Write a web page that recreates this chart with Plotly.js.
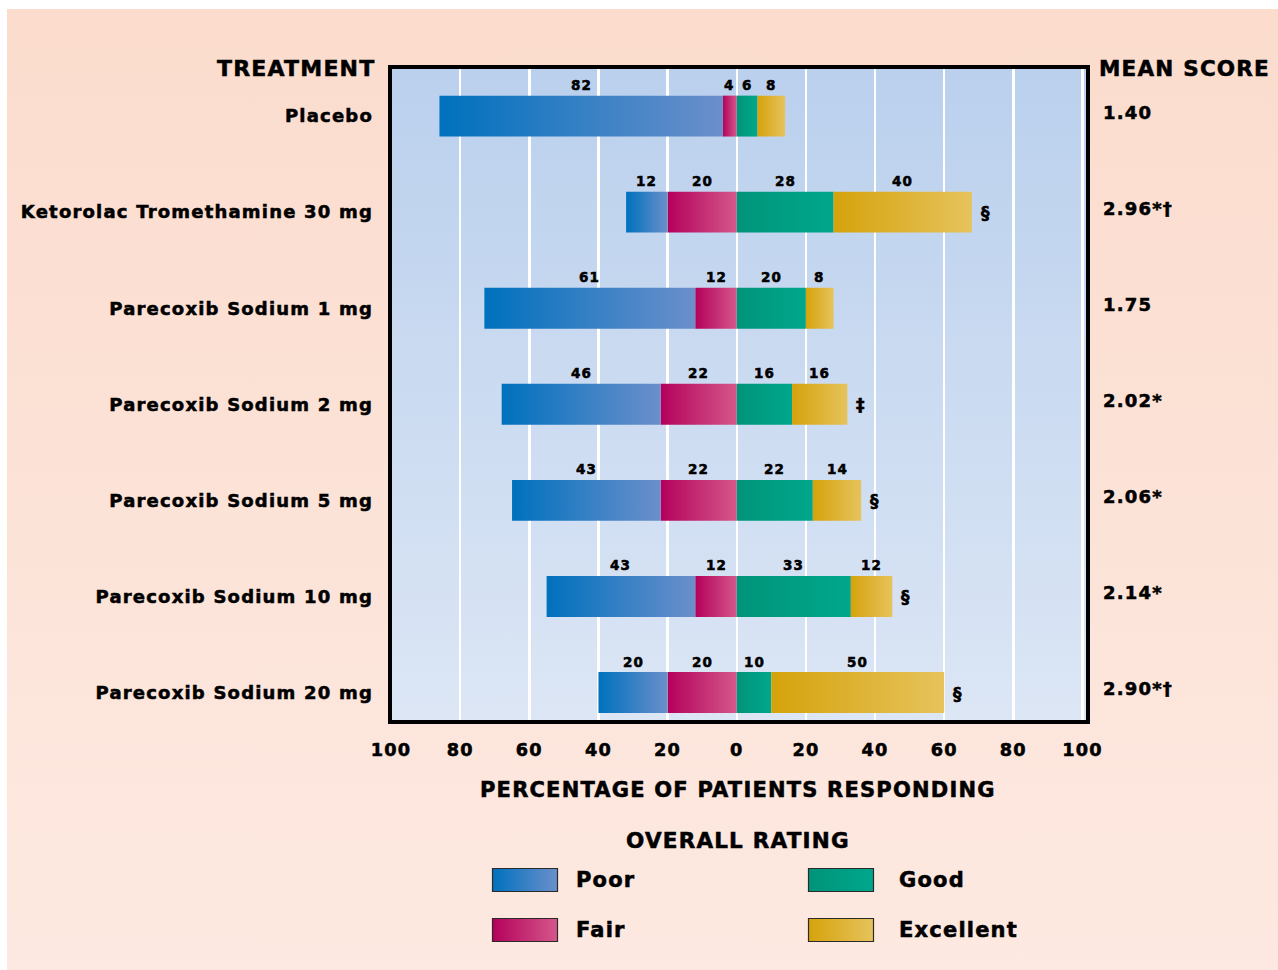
<!DOCTYPE html>
<html>
<head>
<meta charset="utf-8">
<script src="https://cdn.plot.ly/plotly-3.0.1.min.js"></script>
<style>
  html, body { margin: 0; padding: 0; background: #ffffff; }
  #frame {
    position: absolute; left: 7px; top: 9px; width: 1271px; height: 961px;
    background: linear-gradient(to bottom, #fbdccd 0%, #fce3d8 55%, #fde9e1 100%);
  }
  #chart { position: absolute; left: 0; top: 0; width: 1278px; height: 970px; }
  /* heavy, slightly tracked-out lettering throughout */
  svg text { letter-spacing: 1.2px; stroke: #000000; stroke-width: 0.55px; }
</style>
</head>
<body>
<div id="frame"></div>
<div id="chart"></div>
<script>
// Overall rating by treatment (percentage of patients)
const treatments = [
  'Placebo',
  'Ketorolac Tromethamine 30 mg',
  'Parecoxib Sodium 1 mg',
  'Parecoxib Sodium 2 mg',
  'Parecoxib Sodium 5 mg',
  'Parecoxib Sodium 10 mg',
  'Parecoxib Sodium 20 mg'
];
const poor      = [82, 12, 61, 46, 43, 43, 20];
const fair      = [4, 20, 12, 22, 22, 12, 20];
const good      = [6, 28, 20, 16, 22, 33, 10];
const excellent = [8, 40, 8, 16, 14, 12, 50];
const meanScores = ['1.40', '2.96*\u2020', '1.75', '2.02*', '2.06*', '2.14*', '2.90*\u2020'];
const significance = ['', '\u00a7', '', '\u2021', '\u00a7', '\u00a7', '\u00a7'];
const tickValues = [-100, -80, -60, -40, -20, 0, 20, 40, 60, 80, 100];
const tickLabels = ['100', '80', '60', '40', '20', '0', '20', '40', '60', '80', '100'];

const FONT = 'DejaVu Sans, sans-serif';

// Base colours (also used to find the drawn paths and swap in gradients)
const COLORS = {
  poor: 'rgb(60, 130, 200)',
  fair: 'rgb(200, 50, 120)',
  good: 'rgb(0, 158, 130)',
  excellent: 'rgb(222, 180, 60)'
};
const GRADIENTS = {
  poor: ['#0071bd', '#0a74bf', '#6b8fcb'],
  fair: ['#b3005b', '#b70a60', '#d5578a'],
  good: ['#00957a', '#00967b', '#00a78c'],
  excellent: ['#d4a30a', '#d7a614', '#e6c35c']
};
const PLOT_BG = 'rgb(201, 217, 240)';

const neg = a => a.map(v => -v);
const barCommon = { type: 'bar', orientation: 'h', y: treatments, width: 0.426,
  hoverinfo: 'skip', showlegend: false };

const traces = [
  Object.assign({}, barCommon, { name: 'Fair', x: neg(fair), marker: { color: COLORS.fair, line: { width: 0 } } }),
  Object.assign({}, barCommon, { name: 'Poor', x: neg(poor), marker: { color: COLORS.poor, line: { width: 0 } } }),
  Object.assign({}, barCommon, { name: 'Good', x: good, marker: { color: COLORS.good, line: { width: 0 } } }),
  Object.assign({}, barCommon, { name: 'Excellent', x: excellent, marker: { color: COLORS.excellent, line: { width: 0 } } })
];

const annotations = [];
const txt = (size) => ({ family: FONT, size: size, color: '#000000', weight: 'bold' });

// Segment value labels above each bar, significance marks and mean scores
treatments.forEach((t, i) => {
  const segs = [
    [-(fair[i] + poor[i] / 2), poor[i]],
    [-fair[i] / 2, fair[i]],
    [good[i] / 2, good[i]],
    [good[i] + excellent[i] / 2, excellent[i]]
  ];
  segs.forEach(([cx, v]) => annotations.push({
    x: cx, y: t, xref: 'x', yref: 'y', text: String(v), showarrow: false,
    yshift: 31, xanchor: 'center', yanchor: 'middle', font: txt(13.5)
  }));
  if (significance[i]) {
    annotations.push({
      x: good[i] + excellent[i], y: t, xref: 'x', yref: 'y', text: significance[i],
      showarrow: false, xanchor: 'left', yanchor: 'middle', xshift: 7, yshift: -1, font: txt(17)
    });
  }
  annotations.push({
    x: 1, y: t, xref: 'paper', yref: 'y', text: meanScores[i], showarrow: false,
    xanchor: 'left', yanchor: 'middle', xshift: 13, yshift: 4, font: txt(18)
  });
});

// Column headers and axis captions
annotations.push(
  { x: 0, y: 1, xref: 'paper', yref: 'paper', text: 'TREATMENT', showarrow: false,
    xanchor: 'right', yanchor: 'middle', xshift: -13, yshift: -1, font: txt(22) },
  { x: 1, y: 1, xref: 'paper', yref: 'paper', text: 'MEAN SCORE', showarrow: false,
    xanchor: 'left', yanchor: 'middle', xshift: 9, yshift: -1, font: txt(21.5) },
  { x: 0.5, y: 0, xref: 'paper', yref: 'paper', text: 'PERCENTAGE OF PATIENTS RESPONDING', showarrow: false,
    xanchor: 'center', yanchor: 'middle', xshift: -1, yshift: -67.5, font: txt(21) },
  { x: 0.5, y: 0, xref: 'paper', yref: 'paper', text: 'OVERALL RATING', showarrow: false,
    xanchor: 'center', yanchor: 'middle', xshift: -1, yshift: -118.5, font: txt(21.5) }
);

// Legend (2 x 2 grid)
const legendItems = [
  { label: 'Poor', key: 'poor', col: 0, row: 0 },
  { label: 'Good', key: 'good', col: 1, row: 0 },
  { label: 'Fair', key: 'fair', col: 0, row: 1 },
  { label: 'Excellent', key: 'excellent', col: 1, row: 1 }
];
const shapes = [
  { type: 'rect', xref: 'x domain', yref: 'y domain', x0: 0, x1: 1, y0: 0, y1: 1,
    line: { color: '#000000', width: 4 }, fillcolor: 'rgba(0,0,0,0)', layer: 'above' }
];
legendItems.forEach(it => {
  const bx = 102.5 + it.col * 316;
  const by = -146.5 - it.row * 50;
  shapes.push({
    type: 'rect', xref: 'paper', yref: 'paper', xsizemode: 'pixel', ysizemode: 'pixel',
    xanchor: 0, yanchor: 0, x0: bx, x1: bx + 65, y0: by, y1: by - 23,
    fillcolor: COLORS[it.key], line: { color: '#2a2a2a', width: 1.2 }, layer: 'above'
  });
  annotations.push({
    x: 0, y: 0, xref: 'paper', yref: 'paper', text: it.label, showarrow: false,
    xanchor: 'left', yanchor: 'middle', xshift: bx + (it.col ? 88 : 81), yshift: by - 11.5, font: txt(21)
  });
});

const layout = {
  width: 1278, height: 970,
  margin: { l: 389.5, r: 190, t: 67, b: 247.5, pad: 0 },
  paper_bgcolor: 'rgba(0,0,0,0)',
  plot_bgcolor: PLOT_BG,
  barmode: 'relative',
  showlegend: false,
  xaxis: {
    range: [-100.3, 101.6], tickvals: tickValues, ticktext: tickLabels,
    showgrid: true, gridcolor: '#ffffff', gridwidth: 2.5,
    zeroline: true, zerolinecolor: '#ffffff', zerolinewidth: 2.5,
    ticks: '', ticklabelstandoff: 15, tickfont: txt(17.7), showline: false, fixedrange: true
  },
  yaxis: {
    range: [6.307, -0.511], type: 'category', tickfont: txt(18),
    showgrid: false, zeroline: false, ticks: '', ticklabelstandoff: 16, showline: false, fixedrange: true
  },
  shapes: shapes,
  annotations: annotations,
  font: { family: FONT, color: '#000000' }
};

const gd = document.getElementById('chart');

function applyGradients() {
  const svg = gd.querySelector('.main-svg');
  if (!svg) return;
  const NS = 'http://www.w3.org/2000/svg';
  let defs = svg.querySelector('defs');
  if (!defs) { defs = document.createElementNS(NS, 'defs'); svg.insertBefore(defs, svg.firstChild); }
  const makeGrad = (id, stops, vertical) => {
    if (defs.querySelector('#' + id)) return;
    const g = document.createElementNS(NS, 'linearGradient');
    g.setAttribute('id', id);
    g.setAttribute('x1', '0'); g.setAttribute('y1', '0');
    g.setAttribute('x2', vertical ? '0' : '1'); g.setAttribute('y2', vertical ? '1' : '0');
    stops.forEach(([off, col]) => {
      const s = document.createElementNS(NS, 'stop');
      s.setAttribute('offset', off); s.setAttribute('stop-color', col);
      g.appendChild(s);
    });
    defs.appendChild(g);
  };
  const lookup = {};
  Object.keys(GRADIENTS).forEach(k => {
    const c = GRADIENTS[k];
    makeGrad('grad-' + k, [['0', c[0]], ['0.1', c[1]], ['1', c[2]]], false);
    lookup[COLORS[k].replace(/\s/g, '')] = 'url(#grad-' + k + ')';
  });
  makeGrad('grad-plotbg', [['0', '#bad0ed'], ['1', '#dce6f5']], true);
  lookup[PLOT_BG.replace(/\s/g, '')] = 'url(#grad-plotbg)';

  gd.querySelectorAll('path, rect').forEach(el => {
    const f = (el.style.fill || '').replace(/\s/g, '');
    if (lookup[f]) el.style.fill = lookup[f];
  });
}

Plotly.newPlot(gd, traces, layout, { displayModeBar: false, staticPlot: true }).then(() => {
  applyGradients();
  gd.on('plotly_afterplot', applyGradients);
});
</script>
</body>
</html>
